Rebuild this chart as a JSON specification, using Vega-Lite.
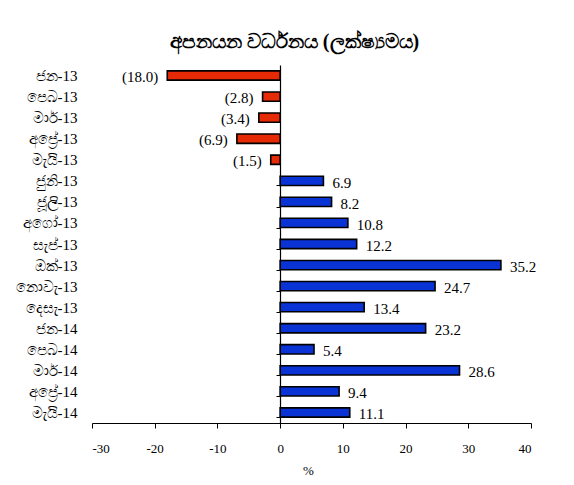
{
  "$schema": "https://vega.github.io/schema/vega-lite/v6.json",
  "width": 439,
  "height": 358,
  "autosize": "none",
  "padding": {"left": 92, "top": 65, "right": 43, "bottom": 62},
  "background": "white",
  "config": {"view": {"stroke": null}, "font": "Liberation Serif"},
  "title": {"text": "අපනයන වර්ධනය (ලක්ෂ්‍යමය)", "fontSize": 20, "fontWeight": "bold", "font": "Liberation Serif", "color": "black", "dx": -17, "offset": 6},
  "data": {"values": [
    {"month": "ජන-13", "value": -18.0, "label": "(18.0)"},
    {"month": "පෙබ-13", "value": -2.8, "label": "(2.8)"},
    {"month": "මාර්-13", "value": -3.4, "label": "(3.4)"},
    {"month": "අප්‍රේ-13", "value": -6.9, "label": "(6.9)"},
    {"month": "මැයි-13", "value": -1.5, "label": "(1.5)"},
    {"month": "ජුනි-13", "value": 6.9, "label": "6.9"},
    {"month": "ජූලි-13", "value": 8.2, "label": "8.2"},
    {"month": "අගෝ-13", "value": 10.8, "label": "10.8"},
    {"month": "සැප්-13", "value": 12.2, "label": "12.2"},
    {"month": "ඔක්-13", "value": 35.2, "label": "35.2"},
    {"month": "නොවැ-13", "value": 24.7, "label": "24.7"},
    {"month": "දෙසැ-13", "value": 13.4, "label": "13.4"},
    {"month": "ජන-14", "value": 23.2, "label": "23.2"},
    {"month": "පෙබ-14", "value": 5.4, "label": "5.4"},
    {"month": "මාර්-14", "value": 28.6, "label": "28.6"},
    {"month": "අප්‍රේ-14", "value": 9.4, "label": "9.4"},
    {"month": "මැයි-14", "value": 11.1, "label": "11.1"}
  ]},
  "encoding": {
    "y": {"field": "month", "type": "nominal", "sort": null,
      "scale": {"paddingInner": 0.56, "paddingOuter": 0.28},
      "axis": {"title": null, "offset": -188, "domainColor": "black", "domainWidth": 1.2, "tickColor": "black", "tickSize": 4, "tickBand": "extent", "labelPadding": 199, "labelFont": "Liberation Serif", "labelFontSize": 15, "labelColor": "black"}}
  },
  "layer": [
    {
      "mark": {"type": "bar", "stroke": "black", "strokeWidth": 1.6},
      "encoding": {
        "x": {"field": "value", "type": "quantitative",
          "scale": {"domain": [-30, 40], "nice": false},
          "axis": {"title": "%", "values": [-30, -20, -10, 0, 10, 20, 30, 40], "labelExpr": "'' + datum.value", "grid": false, "domainColor": "black", "domainWidth": 1.2, "tickColor": "black", "tickSize": 5, "labelPadding": 14, "labelFont": "Liberation Serif", "labelFontSize": 13, "labelColor": "black", "titleFont": "Liberation Serif", "titleFontSize": 13, "titleFontWeight": "normal", "titleColor": "black", "titlePadding": 9, "titleX": 216}},
        "color": {"condition": {"test": "datum.value < 0", "value": "#E62A05"}, "value": "#0A33D6"}
      }
    },
    {
      "transform": [{"filter": "datum.value < 0"}],
      "mark": {"type": "text", "align": "right", "baseline": "middle", "dx": -9, "dy": 1, "font": "Liberation Serif", "fontSize": 15, "color": "black"},
      "encoding": {"x": {"field": "value", "type": "quantitative"}, "text": {"field": "label"}}
    },
    {
      "transform": [{"filter": "datum.value >= 0"}],
      "mark": {"type": "text", "align": "left", "baseline": "middle", "dx": 9, "dy": 2, "font": "Liberation Serif", "fontSize": 15, "color": "black"},
      "encoding": {"x": {"field": "value", "type": "quantitative"}, "text": {"field": "label"}}
    }
  ]
}
